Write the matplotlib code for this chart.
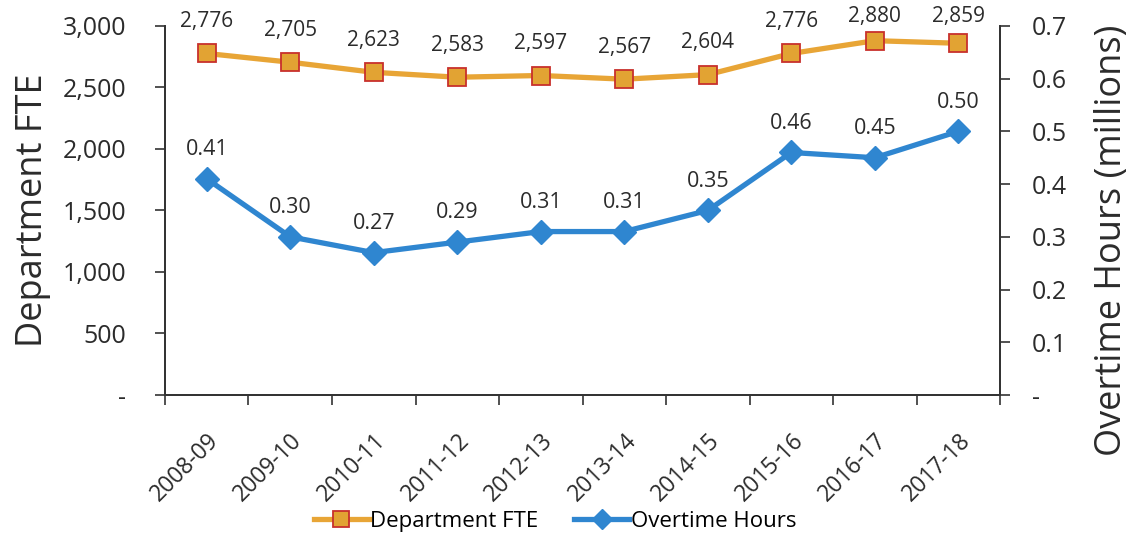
import numpy as np
import matplotlib.pyplot as plt
import matplotlib.transforms as mtransforms
from matplotlib.ticker import FuncFormatter, FixedLocator

plt.rcParams['font.family'] = ['Open Sans', 'DejaVu Sans']

years = ["2008-09", "2009-10", "2010-11", "2011-12", "2012-13",
         "2013-14", "2014-15", "2015-16", "2016-17", "2017-18"]
fte = [2776, 2705, 2623, 2583, 2597, 2567, 2604, 2776, 2880, 2859]
overtime = [0.41, 0.30, 0.27, 0.29, 0.31, 0.31, 0.35, 0.46, 0.45, 0.50]

ORANGE = "#E8A536"
RED_EDGE = "#C8302C"
BLUE = "#2F86D0"
TXT = "#2b2b2b"

fig = plt.figure(figsize=(11.3, 5.4), dpi=100)
ax = fig.add_axes([0.146, 0.2685, 0.739, 0.6835])
ax2 = ax.twinx()

x = np.arange(len(years))
l1, = ax.plot(x, fte, color=ORANGE, lw=3.8, marker="s", ms=13,
              mfc="#E2A333", mec=RED_EDGE, mew=1.3, label="Department FTE", zorder=3)
l2, = ax2.plot(x, overtime, color=BLUE, lw=3.8, marker="D", ms=12,
               mfc=BLUE, mec=BLUE, label="Overtime Hours", zorder=3)

# FTE labels sit above the points but are kept inside the chart area (like Excel does)
for xi, v in zip(x, fte):
    ax.text(xi, min(v + 260, 3075), f"{v:,}", ha="center", va="center",
            fontsize=15, color=TXT, clip_on=False)
for xi, v in zip(x, overtime):
    ax2.annotate(f"{v:.2f}", (xi, v), xytext=(0, 21), textcoords="offset points",
                 ha="center", va="center", fontsize=15.5, color=TXT)

ax.set_xlim(-0.5, len(years) - 0.5)
ax.set_ylim(0, 3000)
ax2.set_ylim(0, 0.7)

ax.set_yticks(np.arange(0, 3001, 500))
ax.yaxis.set_major_formatter(FuncFormatter(lambda v, p: "-" if v == 0 else f"{int(v):,}"))
ax2.set_yticks(np.arange(0, 0.71, 0.1))
ax2.yaxis.set_major_formatter(FuncFormatter(lambda v, p: "-" if abs(v) < 1e-9 else f"{v:.1f}"))

ax.set_xticks(x)
ax.set_xticklabels(years, rotation=45, ha="right", rotation_mode="anchor", fontsize=16.5, color=TXT)
shift = mtransforms.ScaledTranslation(0.07, 0, fig.dpi_scale_trans)
for lab in ax.get_xticklabels():
    lab.set_transform(lab.get_transform() + shift)
ax.xaxis.set_minor_locator(FixedLocator(np.arange(-0.5, len(years), 1.0)))
ax.tick_params(axis="x", which="major", length=0, pad=24)
ax.tick_params(axis="x", which="minor", length=7, width=1.2, color="#333333")

ax.tick_params(axis="y", labelsize=18, labelcolor=TXT, length=7, width=1.2, color="#333333", pad=21)
ax2.tick_params(axis="y", labelsize=18, labelcolor=TXT, length=7, width=1.2, color="#333333", pad=16)

for a in (ax, ax2):
    a.spines["top"].set_visible(False)
    for s in ("left", "right", "bottom"):
        a.spines[s].set_color("#333333")
        a.spines[s].set_linewidth(1.3)

ax.set_ylabel("Department FTE", fontsize=26, color=TXT)
ax.yaxis.set_label_coords(-0.136, 0.5)
ax2.set_ylabel("Overtime Hours (millions)", fontsize=26, color=TXT)
ax2.yaxis.set_label_coords(1.112, 0.42)

fig.legend(handles=[l1, l2], loc="center", bbox_to_anchor=(0.491, 0.035), ncol=2, frameon=False,
           fontsize=16, handlelength=2.5, handletextpad=0.05, columnspacing=1.6,
           markerscale=0.85)

fig.savefig("out.png", dpi=100)
